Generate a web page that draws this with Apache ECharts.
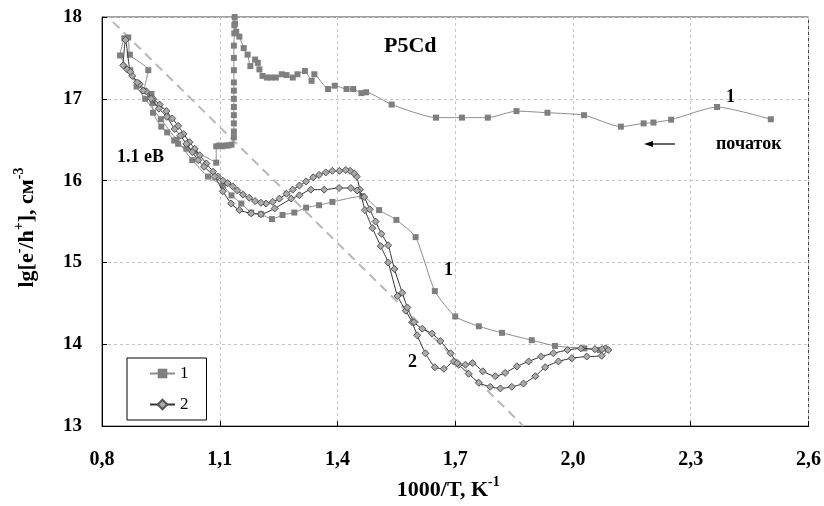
<!DOCTYPE html>
<html><head><meta charset="utf-8">
<script src="https://cdn.jsdelivr.net/npm/echarts@6/dist/echarts.min.js"></script>
<style>html,body{margin:0;padding:0;background:#fff}#c{width:824px;height:506px}</style>
</head><body><div id="c"></div>
<script>
// x tick labels
const xTicks = ['0,8','1,1','1,4','1,7','2,0','2,3','2,6'];
const yTicks = ['13','14','15','16','17','18'];
// Series 1 (squares): heating from right ("початок") to left, then cooling back
const s1x = [2.504,2.367,2.250,2.205,2.180,2.122,2.028,1.935,1.856,1.783,1.717,1.651,1.538,1.473,1.461,1.440,1.423,1.393,1.376,1.341,1.334,1.317,1.298,1.286,1.270,1.258,1.243,1.231,1.220,1.209,1.201,1.197,1.190,1.178,1.171,1.161,1.150,1.142,1.139,1.138,
 1.137,1.137,1.136,1.136,1.136,1.136,1.136,1.136,1.136,1.136,1.136,1.136,1.136,
 1.130,1.122,1.115,1.107,1.099,1.091,1.091,
 1.036,1.015,0.994,0.984,0.966,0.951,0.930,0.929,0.926,0.907,0.918,0.871,0.867,0.857,0.846,
 0.872,0.888,0.910,0.950,0.990,1.030,1.070,1.108,1.130,1.155,1.180,1.205,1.233,1.260,1.290,1.320,1.353,1.387,1.463,1.506,1.550,1.599,1.648,1.700,1.760,1.819,1.895,1.954,2.029,2.068];
const s1y = [16.75,16.90,16.745,16.71,16.70,16.66,16.80,16.83,16.85,16.77,16.77,16.77,16.93,17.08,17.07,17.12,17.12,17.16,17.12,17.30,17.22,17.34,17.30,17.26,17.29,17.30,17.26,17.26,17.26,17.28,17.36,17.44,17.48,17.40,17.54,17.62,17.76,17.82,17.92,18.0,
 17.9,17.8,17.65,17.5,17.35,17.2,17.1,17.0,16.9,16.8,16.7,16.6,16.53,
 16.44,16.43,16.43,16.42,16.43,16.42,16.22,
 16.36,16.39,16.45,16.49,16.59,16.66,16.83,16.95,17.06,17.10,17.35,17.54,17.75,17.74,17.53,
 17.35,17.15,17.00,16.75,16.50,16.25,16.05,15.94,15.82,15.72,15.61,15.59,15.53,15.58,15.61,15.67,15.70,15.74,15.81,15.64,15.52,15.31,14.65,14.34,14.22,14.14,14.05,13.98,13.95,13.93];
// Series 2 (diamonds)
const s2x = [2.083,2.074,2.056,2.020,1.986,1.950,1.919,1.887,1.857,1.827,1.802,1.770,1.744,1.726,1.709,1.696,1.671,1.648,1.624,1.603,1.590,1.574,1.553,1.529,1.510,1.489,1.470,1.457,1.449,1.442,1.432,1.421,1.405,1.387,1.370,1.353,1.338,1.320,1.303,1.286,1.270,1.252,1.235,1.218,1.205,1.190,1.175,1.159,1.145,1.133,1.120,1.108,1.095,1.083,1.066,1.049,1.036,1.023,1.008,0.994,0.979,0.964,0.947,0.930,0.913,0.896,0.877,0.864,0.854,0.860,
 0.872,0.890,0.905,0.925,0.945,0.965,0.985,1.000,1.015,1.030,1.045,1.060,1.087,1.108,1.129,1.150,1.180,1.205,1.240,1.282,1.303,1.332,1.366,1.404,1.434,1.450,1.468,1.482,1.497,1.512,1.529,1.545,1.565,1.578,1.595,1.616,1.641,1.662,1.688,1.705,1.734,1.760,1.789,1.815,1.844,1.874,1.904,1.929,1.963,1.997,2.035,2.073,2.090];
const s2y = [13.95,13.94,13.94,13.95,13.93,13.89,13.85,13.79,13.73,13.65,13.61,13.67,13.77,13.75,13.75,13.79,13.70,13.72,13.89,14.11,14.27,14.41,14.59,15.00,15.20,15.42,15.64,15.89,16.05,16.09,16.12,16.13,16.12,16.12,16.10,16.07,16.04,15.99,15.94,15.89,15.84,15.78,15.74,15.72,15.73,15.75,15.79,15.83,15.88,15.93,15.97,16.00,16.05,16.11,16.21,16.31,16.39,16.47,16.57,16.67,16.76,16.85,16.93,17.00,17.09,17.18,17.28,17.36,17.41,17.72,
 17.33,17.20,17.10,17.00,16.88,16.78,16.63,16.55,16.45,16.35,16.25,16.17,16.05,15.87,15.72,15.64,15.60,15.59,15.66,15.78,15.82,15.89,15.89,15.91,15.91,15.88,15.80,15.65,15.50,15.35,15.21,14.92,14.63,14.45,14.27,14.19,14.13,14.04,13.89,13.77,13.64,13.53,13.48,13.46,13.48,13.52,13.61,13.72,13.79,13.83,13.85,13.86,13.93];
// Dashed activation-energy line (1.1 eV)
const dashX = [0.828, 1.874];
const dashY = [17.94, 13.0];

const zip = (a,b) => a.map((v,i)=>[v,b[i]]);
const SERIF = 'Liberation Serif';
const chart = echarts.init(document.getElementById('c'));
const richTitle = {
  t: {fontFamily: SERIF, fontWeight: 'bold', fontSize: 22, color: '#000', lineHeight: 26, verticalAlign: 'bottom'},
  s: {fontFamily: SERIF, fontWeight: 'bold', fontSize: 14, color: '#000', lineHeight: 14, verticalAlign: 'top'}
};
chart.setOption({
  animation: false,
  backgroundColor: '#fff',
  grid: {left: 102, right: 13, top: 17, bottom: 76, show: true, borderColor: '#444', borderWidth: 1},
  xAxis: {
    type: 'value', min: 0.8, max: 2.6, interval: 0.3,
    axisLine: {lineStyle: {color: '#000', width: 1}},
    axisTick: {inside: true, length: 5, lineStyle: {color: '#000'}},
    axisLabel: {margin: 24, fontFamily: SERIF, fontWeight: 'bold', fontSize: 20, color: '#000',
      formatter: v => xTicks[Math.round((v - 0.8) / 0.3)] },
    splitLine: {show: true, lineStyle: {color: '#c4c4c4', type: [3, 3]}},
    name: '{t|1000/T, K}{s|-1}', nameLocation: 'middle', nameGap: 46,
    nameTextStyle: {padding: [0, 14, 0, 0], rich: richTitle}
  },
  yAxis: {
    type: 'value', min: 13, max: 18, interval: 1,
    axisLine: {show: true, lineStyle: {color: '#000', width: 1}},
    axisTick: {show: true, inside: true, length: 5, lineStyle: {color: '#000'}},
    axisLabel: {margin: 20, fontFamily: SERIF, fontWeight: 'bold', fontSize: 19, color: '#000',
      formatter: v => yTicks[Math.round(v - 13)] },
    splitLine: {show: true, lineStyle: {color: '#c4c4c4', type: [3, 3]}},
    name: '{t|lg[e}{s|-}{t|/h}{s|+}{t|], см}{s|-3}', nameLocation: 'middle', nameGap: 64, nameRotate: 90,
    nameTextStyle: {padding: [0, 12, 0, 0], rich: richTitle}
  },
  legend: {
    orient: 'vertical', left: 127, top: 358, data: ['1', '2'],
    padding: [7, 18, 7, 22], itemGap: 14, itemWidth: 25, itemHeight: 12,
    borderColor: '#000', borderWidth: 1, backgroundColor: '#fff',
    textStyle: {fontFamily: SERIF, fontSize: 17, color: '#000'}
  },
  series: [
    {type: 'line', name: 'dash', data: zip(dashX, dashY), symbol: 'none', silent: true,
     lineStyle: {color: '#b8b8b8', width: 2, type: [9, 6]}, z: 1},
    {type: 'line', name: '1', data: zip(s1x, s1y), smooth: 0.2, symbol: 'rect', symbolSize: 6,
     lineStyle: {color: '#8c8c8c', width: 1}, itemStyle: {color: '#7f7f7f'}, z: 2},
    {type: 'line', name: '2', data: zip(s2x, s2y), smooth: 0.2, symbol: 'diamond', symbolSize: 7,
     lineStyle: {color: '#333', width: 1}, itemStyle: {color: '#aaaaaa', borderColor: '#555', borderWidth: 1}, z: 3}
  ],
  graphic: [
    {type: 'text', left: 384, top: 35, style: {text: 'P5Cd', font: 'bold 22px "Liberation Serif"', fill: '#000'}},
    {type: 'text', left: 117, top: 148, style: {text: '1.1 eB', font: 'bold 18px "Liberation Serif"', fill: '#000'}},
    {type: 'text', left: 726, top: 88, style: {text: '1', font: 'bold 18px "Liberation Serif"', fill: '#000'}},
    {type: 'text', left: 716, top: 135, style: {text: 'початок', font: 'bold 18px "Liberation Serif"', fill: '#000'}},
    {type: 'text', left: 444, top: 261, style: {text: '1', font: 'bold 18px "Liberation Serif"', fill: '#000'}},
    {type: 'text', left: 408, top: 353, style: {text: '2', font: 'bold 18px "Liberation Serif"', fill: '#000'}},
    {type: 'line', shape: {x1: 651, y1: 144, x2: 675, y2: 144}, style: {stroke: '#000', lineWidth: 1.2}},
    {type: 'polygon', shape: {points: [[644, 144], [653, 141], [653, 147]]}, style: {fill: '#000'}}
  ]
});
</script></body></html>
